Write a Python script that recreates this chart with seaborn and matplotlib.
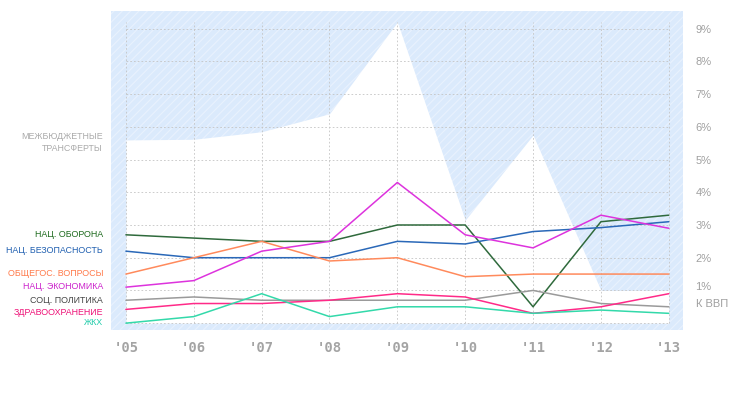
import numpy as np
import pandas as pd
import matplotlib
matplotlib.use('Agg')
import matplotlib.pyplot as plt
import matplotlib.transforms as mtransforms
from matplotlib.patches import Rectangle
import seaborn as sns

sns.set_style('white')
plt.rcParams['font.family'] = ['Liberation Sans', 'DejaVu Sans']
plt.rcParams['hatch.linewidth'] = 0.8

# годы и доли расходов (% к ВВП)
years = [2005, 2006, 2007, 2008, 2009, 2010, 2011, 2012, 2013]
year_labels = ["'05", "'06", "'07", "'08", "'09", "'10", "'11", "'12", "'13"]

transfers = [5.6, 5.62, 5.85, 6.4, 9.2, 3.15, 5.75, 1.0, 1.0]

defense = [2.7, 2.6, 2.5, 2.5, 3.0, 3.0, 0.5, 3.1, 3.3]
security = [2.2, 2.0, 2.0, 2.0, 2.5, 2.42, 2.8, 2.92, 3.1]
general = [1.5, 2.0, 2.5, 1.9, 2.0, 1.42, 1.5, 1.5, 1.5]
economy = [1.1, 1.3, 2.2, 2.5, 4.3, 2.7, 2.3, 3.3, 2.9]
social = [0.7, 0.8, 0.7, 0.7, 0.7, 0.7, 1.0, 0.6, 0.5]
health = [0.42, 0.6, 0.6, 0.7, 0.9, 0.8, 0.3, 0.5, 0.9]
housing = [0.0, 0.2, 0.9, 0.2, 0.5, 0.5, 0.3, 0.4, 0.3]

sectors = ['НАЦ. ОБОРОНА', 'НАЦ. БЕЗОПАСНОСТЬ', 'ОБЩЕГОС. ВОПРОСЫ', 'НАЦ. ЭКОНОМИКА',
           'СОЦ. ПОЛИТИКА', 'ЗДРАВООХРАНЕНИЕ', 'ЖКХ']
series = [defense, security, general, economy, social, health, housing]
colors = ['#2f6a3c', '#2a68b8', '#ff8a5c', '#dd33dd', '#9a9a9a', '#ff2a88', '#33d9aa']
label_colors = ['#1d6a1d', '#1f5fb0', '#ff7a4a', '#cc22cc', '#444444', '#ee1177', '#22ccaa']
label_y = [2.72, 2.22, 1.52, 1.13, 0.7, 0.33, 0.02]

df = pd.DataFrame({
    'year': years * len(sectors),
    'value': sum(series, []),
    'sector': np.repeat(sectors, len(years)),
})

fig = plt.figure(figsize=(7.38, 3.94), dpi=100)
ax = fig.add_axes([0.1504, 0.1624, 0.7751, 0.8096])

# штрихованный голубой фон
ax.add_patch(Rectangle((0, 0), 1, 1, transform=ax.transAxes, facecolor='#dbeafc',
                       edgecolor='#e8f2fe', hatch='////', lw=0, zorder=0))
# межбюджетные трансферты - белая область
ax.fill_between(years, 0, transfers, color='white', lw=0, zorder=1)

# сетка
ax.hlines(range(0, 10), years[0], years[-1], colors='#c4c4c4', linestyles=(0, (2, 2.5)), lw=0.6, zorder=2)
ax.vlines(years, 0, 9.2, colors='#c4c4c4', linestyles=(0, (2, 2.5)), lw=0.6, zorder=2)

sns.lineplot(data=df, x='year', y='value', hue='sector', palette=dict(zip(sectors, colors)),
             hue_order=sectors, legend=False, lw=1.1, ax=ax, zorder=3)

ax.set_xlim(2004.78, 2013.21)
ax.set_ylim(-0.21, 9.54)
for s in ax.spines.values():
    s.set_visible(False)

ax.set_xticks(years)
ax.set_xticklabels(year_labels, family='DejaVu Sans Mono', fontweight='bold', fontsize=10, color='#a4a4a4')
ax.tick_params(axis='x', length=0, pad=8)
ax.yaxis.tick_right()
ax.set_yticks(range(2, 10))
ax.set_yticklabels([f'{v}%' for v in range(2, 10)], fontsize=8, color='#a0a0a0')
ax.tick_params(axis='y', length=0, pad=9)
ax.set_xlabel('')
ax.set_ylabel('')

ax.annotate('1%', xy=(1, 1.1), xycoords=('axes fraction', 'data'), xytext=(9, 0),
            textcoords='offset points', fontsize=8, color='#a0a0a0', va='center')
ax.annotate('К ВВП', xy=(1, 0.6), xycoords=('axes fraction', 'data'), xytext=(9, 0),
            textcoords='offset points', fontsize=8, color='#a0a0a0', va='center')

# подписи слева
trans = mtransforms.blended_transform_factory(fig.transFigure, ax.transData)
for name, c, yv in zip(sectors, label_colors, label_y):
    ax.text(103 / 738, yv, name, transform=trans, ha='right', va='center', fontsize=6.4, color=c)
ax.text(103 / 738, 5.52, 'МЕЖБЮДЖЕТНЫЕ\nТРАНСФЕРТЫ', transform=trans, ha='right', va='center',
        fontsize=6.4, color='#aaaaaa', linespacing=1.35)

fig.savefig('out.png', dpi=100)
